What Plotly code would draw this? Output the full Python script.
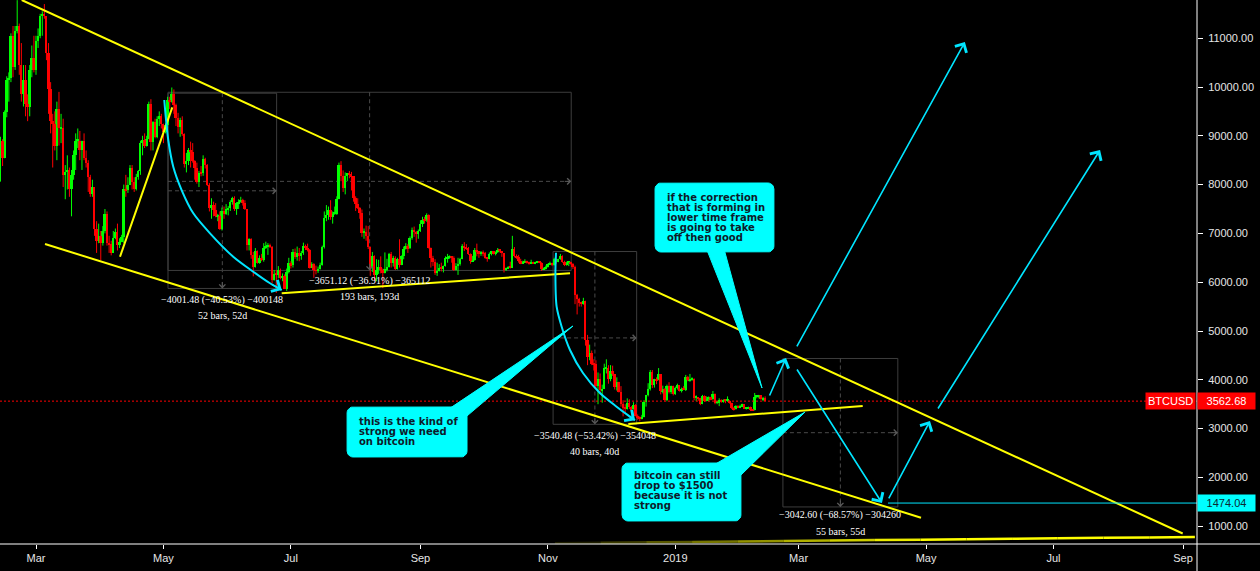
import numpy as np
import pandas as pd
import plotly.graph_objects as go

# ---------------- BTCUSD daily candles ----------------
START_DATE = "2018-02-12"

opens = [
    8080, 8900, 8550, 9480, 10150, 10180, 11050, 10400, 11150, 11250, 10450, 9850, 10150, 9650, 9600, 10350, 10600,
    10350, 10950, 11050, 11450, 11500, 11450, 10700, 9950, 9300, 9250, 8800, 9550, 9150, 9150, 8200, 8250, 8300, 7900, 8200, 8600, 8900, 8900, 8700, 8900, 8550, 8450, 8150, 7800, 7950, 7100, 6850,
    6950, 6800, 7050, 7400, 6800, 6780, 6600, 6900, 7020, 6770, 6830, 6930, 7900, 7880, 8000, 8350, 8050, 7900, 8150, 8280, 8850, 8920, 8800, 8940, 9650, 8870, 9280, 8980, 9350, 9400,
    9240, 9070, 9220, 9740, 9700, 9850, 9640, 9370, 9190, 9320, 9030, 8420, 8480, 8700, 8670, 8480, 8340, 8060, 8240, 8230, 8530, 8400, 8000, 7530, 7580, 7470, 7350, 7350, 7100, 7460, 7390,
    7490, 7530, 7640, 7720, 7500, 7620, 7650, 7680, 7620, 7500, 6770, 6880, 6550, 6310, 6640, 6400, 6500, 6450, 6710, 6740, 6770, 6720, 6050, 6170, 6150, 6250, 6080, 6130, 5860, 6200,
    6390, 6350, 6620, 6510, 6600, 6530, 6600, 6750, 6700, 6660, 6300, 6380, 6240, 6230, 6270, 6350, 6730, 7310, 7380, 7470, 7330, 7400, 7400, 7710, 8400, 8170, 7930, 8180, 8230, 8210, 8170,
    7730, 7600, 7530, 7420, 7010, 7030, 6940, 6720, 6290, 6540, 6150, 6240, 6310, 6260, 6190, 6270, 6310, 6580, 6390, 6490, 6270, 6480, 6360, 6530, 6690, 6740, 6700, 6910, 7070, 7030, 6980,
    7040, 7190, 7280, 7270, 7370, 6700, 6500, 6410, 6180, 6230, 6300, 6280, 6330, 6490, 6500, 6520, 6500, 6250, 6340, 6370, 6480, 6740, 6710, 6700, 6580, 6430, 6460, 6670, 6630, 6590,
    6620, 6590, 6500, 6480, 6570, 6630, 6590, 6610, 6670, 6640, 6590, 6240, 6290, 6310, 6300, 6690, 6530, 6510, 6430, 6390, 6410, 6420, 6400, 6390, 6410, 6390, 6400, 6410, 6400, 6270, 6280,
    6320, 6370, 6390, 6360, 6480, 6420, 6470, 6540, 6420, 6350, 6400, 6400, 6380, 6310, 5740, 5650, 5580, 5560, 5620, 4820, 4470, 4550, 4330, 4320, 3880, 4020, 3790, 3820, 4240, 4240,
    4010, 4180, 4110, 3850, 3950, 3760, 3500, 3420, 3410, 3520, 3440, 3400, 3490, 3260, 3220, 3200, 3230, 3540, 3680, 3810, 4150, 3890, 4020, 3990, 4110, 3770, 3810, 3590, 3870, 3740, 3870,
    3710, 3830, 3890, 3780, 3810, 3800, 4050, 3990, 4000, 4010, 3630, 3630, 3620, 3500, 3660, 3570, 3610, 3640, 3600, 3700, 3530, 3540, 3580, 3550, 3580, 3570, 3570, 3530, 3430, 3400, 3460,
    3430, 3460, 3500, 3410, 3410, 3440, 3390, 3380, 3650, 3650, 3680, 3600, 3620,
]
highs = [
    8980, 8930, 9520, 10220, 10300, 11100, 11250, 11250, 11780, 11300, 10900, 10450, 10450, 9850, 10450, 10850, 11050,
    11050, 11200, 11500, 11550, 11700, 11450, 10900, 10100, 9450, 9500, 9700, 9900, 9450, 9350, 8400, 8600, 8350, 8300, 8700, 9050, 9150, 9100, 8900, 9050, 8700, 8500, 8200, 8100, 7950, 7250, 7200,
    7050, 7150, 7500, 7450, 6950, 6850, 7050, 7100, 7200, 6900, 6970, 8000, 8200, 8150, 8400, 8400, 8150, 8220, 8300, 8900, 9000, 9050, 9000, 9700, 9750, 9300, 9350, 9400, 9500, 9450,
    9250, 9250, 9800, 9800, 9990, 9950, 9660, 9470, 9370, 9400, 9050, 8650, 8750, 8880, 8850, 8500, 8450, 8280, 8380, 8600, 8550, 8420, 8030, 7720, 7650, 7620, 7400, 7450, 7530, 7550, 7600,
    7560, 7680, 7750, 7760, 7640, 7700, 7750, 7710, 7680, 7500, 6900, 6900, 6620, 6700, 6650, 6550, 6580, 6800, 6830, 6800, 6790, 6740, 6250, 6250, 6330, 6280, 6180, 6160, 6280, 6500,
    6430, 6680, 6690, 6730, 6700, 6640, 6810, 6770, 6790, 6680, 6410, 6390, 6340, 6320, 6400, 6750, 7450, 7580, 7550, 7680, 7450, 7550, 7760, 8450, 8480, 8290, 8250, 8230, 8280, 8260, 8170,
    7760, 7720, 7540, 7490, 7100, 7160, 7150, 6730, 6620, 6550, 6470, 6460, 6530, 6280, 6610, 6480, 6600, 6620, 6540, 6530, 6500, 6880, 6550, 6730, 6800, 6780, 6940, 7120, 7140, 7050, 7080,
    7270, 7340, 7340, 7410, 7390, 6710, 6540, 6470, 6400, 6370, 6400, 6340, 6530, 6580, 6550, 6530, 6530, 6390, 6500, 6500, 6780, 6820, 6780, 6720, 6590, 6540, 6700, 6790, 6640, 6640,
    6650, 6620, 6510, 6610, 6640, 6640, 6630, 6700, 6680, 6640, 6590, 6300, 6330, 6420, 6950, 6720, 6570, 6560, 6480, 6440, 6470, 6440, 6420, 6460, 6420, 6420, 6430, 6420, 6410, 6300, 6340,
    6380, 6420, 6400, 6500, 6490, 6480, 6580, 6550, 6440, 6420, 6410, 6420, 6390, 6340, 5760, 5680, 5600, 5680, 5620, 4920, 4720, 4600, 4420, 4400, 4150, 4130, 3900, 4330, 4420, 4300,
    4300, 4290, 4120, 4050, 3960, 3870, 3580, 3500, 3620, 3600, 3460, 3540, 3500, 3290, 3250, 3280, 3580, 3690, 3930, 4200, 4200, 4020, 4050, 4240, 4110, 3880, 3830, 3900, 3950, 3880, 3880,
    3860, 3920, 3890, 3840, 3870, 4100, 4080, 4120, 4050, 4030, 3680, 3640, 3630, 3690, 3680, 3660, 3660, 3650, 3770, 3720, 3570, 3620, 3600, 3600, 3590, 3660, 3580, 3530, 3440, 3480, 3480,
    3490, 3510, 3500, 3430, 3450, 3450, 3400, 3730, 3680, 3690, 3680, 3650, 3660,
]
lows = [
    8060, 8380, 8540, 9380, 9700, 10100, 10200, 10350, 11100, 10250, 9700, 9600, 9400, 9300, 9400, 10200, 10300,
    10250, 10800, 11000, 11050, 11400, 10550, 9450, 9050, 8350, 8700, 8500, 8800, 8850, 7950, 7700, 7900, 7750, 7350, 8100, 8300, 8750, 8500, 8300, 8500, 8350, 7850, 7750, 7750, 6950, 6600, 6800,
    6450, 6750, 7000, 6750, 6600, 6550, 6600, 6880, 6650, 6700, 6820, 6800, 7750, 7830, 7990, 7900, 7850, 7880, 8100, 8200, 8600, 8750, 8780, 8930, 8700, 8700, 8950, 8950, 9200, 9150,
    8850, 9050, 9150, 9550, 9680, 9450, 9200, 9050, 8980, 9000, 8350, 8250, 8400, 8350, 8450, 8100, 8020, 7950, 8170, 8180, 8330, 7970, 7450, 7300, 7350, 7330, 7250, 7070, 7060, 7300, 7380,
    7370, 7460, 7590, 7460, 7380, 7500, 7630, 7570, 7480, 6650, 6650, 6480, 6120, 6300, 6380, 6380, 6430, 6420, 6680, 6560, 6700, 5980, 6030, 5780, 6080, 6060, 6020, 5860, 5820, 6180,
    6280, 6300, 6480, 6440, 6430, 6460, 6560, 6660, 6630, 6280, 6290, 6090, 6160, 6190, 6260, 6340, 6690, 7250, 7280, 7280, 7200, 7380, 7380, 7700, 8070, 7850, 7800, 8070, 8130, 7880, 7650,
    7460, 7500, 7300, 6930, 6890, 6850, 6680, 6130, 6210, 6030, 6020, 6170, 6180, 5880, 6180, 6220, 6300, 6300, 6320, 6250, 6260, 6300, 6350, 6470, 6670, 6600, 6680, 6870, 6930, 6810, 6890,
    7030, 7130, 7200, 7240, 6690, 6300, 6330, 6150, 6130, 6220, 6220, 6200, 6320, 6400, 6480, 6400, 6230, 6240, 6150, 6340, 6470, 6640, 6660, 6560, 6380, 6420, 6440, 6530, 6500, 6540,
    6530, 6480, 6420, 6470, 6550, 6570, 6550, 6600, 6610, 6520, 6200, 6230, 6270, 6280, 6290, 6510, 6480, 6400, 6370, 6380, 6400, 6380, 6360, 6380, 6380, 6370, 6390, 6390, 6230, 6250, 6260,
    6300, 6360, 6330, 6340, 6380, 6410, 6460, 6400, 6330, 6340, 6330, 6360, 6270, 5550, 5340, 5500, 5500, 5540, 4700, 4300, 4400, 4300, 4190, 3830, 3500, 3700, 3530, 3810, 4130, 3920,
    3970, 4080, 3800, 3780, 3740, 3450, 3250, 3300, 3390, 3400, 3360, 3390, 3250, 3180, 3150, 3190, 3230, 3450, 3660, 3780, 3830, 3840, 3910, 3990, 3700, 3720, 3560, 3560, 3720, 3710, 3680,
    3690, 3800, 3760, 3740, 3790, 3770, 3970, 3960, 3980, 3580, 3560, 3570, 3480, 3500, 3550, 3560, 3560, 3580, 3590, 3500, 3500, 3460, 3530, 3530, 3520, 3550, 3510, 3400, 3370, 3390, 3420,
    3420, 3440, 3400, 3390, 3400, 3360, 3360, 3370, 3620, 3620, 3590, 3560, 3560,
]
closes = [
    8900, 8550, 9480, 10150, 10180, 11050, 10400, 11150, 11250, 10450, 9850, 10150, 9650, 9600, 10350, 10600, 10350,
    10950, 11050, 11450, 11500, 11450, 10700, 9950, 9300, 9250, 8800, 9550, 9150, 9150, 8200, 8250, 8300, 7900, 8200, 8600, 8900, 8900, 8700, 8900, 8550, 8450, 8150, 7800, 7950, 7100, 6850, 6950,
    6800, 7050, 7400, 6800, 6780, 6600, 6900, 7020, 6770, 6830, 6930, 7900, 7880, 8000, 8350, 8050, 7900, 8150, 8280, 8850, 8920, 8800, 8940, 9650, 8870, 9280, 8980, 9350, 9400, 9240,
    9070, 9220, 9740, 9700, 9850, 9640, 9370, 9190, 9320, 9030, 8420, 8480, 8700, 8670, 8480, 8340, 8060, 8240, 8230, 8530, 8400, 8000, 7530, 7580, 7470, 7350, 7350, 7100, 7460, 7390, 7490,
    7530, 7640, 7720, 7500, 7620, 7650, 7680, 7620, 7500, 6770, 6880, 6550, 6310, 6640, 6400, 6500, 6450, 6710, 6740, 6770, 6720, 6050, 6170, 6150, 6250, 6080, 6130, 5860, 6200, 6390,
    6350, 6620, 6510, 6600, 6530, 6600, 6750, 6700, 6660, 6300, 6380, 6240, 6230, 6270, 6350, 6730, 7310, 7380, 7470, 7330, 7400, 7400, 7710, 8400, 8170, 7930, 8180, 8230, 8210, 8170, 7730,
    7600, 7530, 7420, 7010, 7030, 6940, 6720, 6290, 6540, 6150, 6240, 6310, 6260, 6190, 6270, 6310, 6580, 6390, 6490, 6270, 6480, 6360, 6530, 6690, 6740, 6700, 6910, 7070, 7030, 6980, 7040,
    7190, 7280, 7270, 7370, 6700, 6500, 6410, 6180, 6230, 6300, 6280, 6330, 6490, 6500, 6520, 6500, 6250, 6340, 6370, 6480, 6740, 6710, 6700, 6580, 6430, 6460, 6670, 6630, 6590, 6620,
    6590, 6500, 6480, 6570, 6630, 6590, 6610, 6670, 6640, 6590, 6240, 6290, 6310, 6300, 6690, 6530, 6510, 6430, 6390, 6410, 6420, 6400, 6390, 6410, 6390, 6400, 6410, 6400, 6270, 6280, 6320,
    6370, 6390, 6360, 6480, 6420, 6470, 6540, 6420, 6350, 6400, 6400, 6380, 6310, 5740, 5650, 5580, 5560, 5620, 4820, 4470, 4550, 4330, 4320, 3880, 4020, 3790, 3820, 4240, 4240, 4010,
    4180, 4110, 3850, 3950, 3760, 3500, 3420, 3410, 3520, 3440, 3400, 3490, 3260, 3220, 3200, 3230, 3540, 3680, 3810, 4150, 3890, 4020, 3990, 4110, 3770, 3810, 3590, 3870, 3740, 3870, 3710,
    3830, 3890, 3780, 3810, 3800, 4050, 3990, 4000, 4010, 3630, 3630, 3620, 3500, 3660, 3570, 3610, 3640, 3600, 3700, 3530, 3540, 3580, 3550, 3580, 3570, 3570, 3530, 3430, 3400, 3460, 3430,
    3460, 3500, 3410, 3410, 3440, 3390, 3380, 3650, 3650, 3680, 3600, 3620, 3562.68,
]
n = len(closes)
if not (len(opens) == len(highs) == len(lows) == n):
    raise ValueError(f"lengths {len(opens)} {len(highs)} {len(lows)} {n}")
dates = pd.date_range(START_DATE, periods=n, freq="D")

last_price = 3562.68
target_price = 1474.04

# axis ticks
tick_dates = ["2018-03-01", "2018-05-01", "2018-07-01", "2018-09-01", "2018-11-01",
              "2019-01-01", "2019-03-01", "2019-05-01", "2019-07-01", "2019-09-01"]
tick_labels = ["Mar", "May", "Jul", "Sep", "Nov", "2019", "Mar", "May", "Jul", "Sep"]

# ---------------- drawings (anchors: days after 2018-03-01, price) ----------------
upper_days, upper_prices = [-6.84, 548.85], [11783, 850]
lower_days, lower_prices = [4.31, 423.6], [6783, 1174]
rise_days, rise_prices = [40.2, 65.24], [6522, 9584]
support1_days, support1_prices = [117.6, 255.6], [5773, 6182]
support2_days, support2_prices = [283.5, 395.7], [3094, 3463]
base_days, base_prices = [248.4, 554.7], [650, 779]

curve1_days = [61.4, 62.1, 63.3, 65.7, 69.7, 75.3, 83.3, 94.4, 104.0, 112.0, 117.6]
curve1_prices = [9734, 9392, 8914, 8367, 7889, 7412, 7002, 6523, 6215, 5978, 5840]
curve2_days = [248.9, 248.6, 249.2, 251.6, 255.6, 261.8, 269.9, 277.9, 283.3, 286.7]
curve2_prices = [6605, 6189, 5498, 5088, 4611, 4139, 3730, 3449, 3275, 3172]

arrow_tail_days = [350.8, 363.8, 363.8, 407.8, 431.3]
arrow_tail_prices = [3648, 4652, 4242, 1537, 3381]
arrow_head_days = [359.0, 444.6, 404.9, 427.9, 509.3]
arrow_head_prices = [4447, 10922, 1475, 3156, 8709]
target_line_start_day = 407.8

measure_start_days = [63.18, 63.18, 247.5, 357.5]
measure_bars = [52, 193, 40, 55]
measure_tops = [9873.5, 9892.1, 6628.5, 4437.1]
measure_bottoms = [5872.0, 6241.0, 3088.0, 1394.5]
measure_text1 = ["\u22124001.48 (\u221240.53%) \u2212400148", "\u22123651.12 (\u221236.91%) \u2212365112",
                 "\u22123540.48 (\u221253.42%) \u2212354048", "\u22123042.60 (\u221268.57%) \u2212304260"]
measure_text2 = ["52 bars, 52d", "193 bars, 193d", "40 bars, 40d", "55 bars, 55d"]
measure_off1 = [12, 11, 11.5, 8]
measure_off2 = [27, 26, 27, 25]

callout1_box = [296.3, 353.2, 8033, 6619]
callout1_ptr_days, callout1_ptr_prices = [320.2, 328.8, 347.5], [6762, 6762, 3832]
callout1_text_at = [301.1, 7746]
callout1_lines = ["if the correction", "that is forming in", "lower time frame", "is going to take", "off then good"]

callout2_box = [148.9, 206.3, 3443, 2418]
callout2_ptr_days, callout2_ptr_prices = [197.5, 205.5, 257.0], [3400, 3230, 5102]
callout2_text_at = [153.6, 3141]
callout2_lines = ["this is the kind of", "strong we need", "on bitcoin"]

callout3_box = [280.5, 337.4, 2295, 1107]
callout3_ptr_days, callout3_ptr_prices = [323.6, 336.0, 368.1], [2234, 1988, 3340]
callout3_text_at = [285.3, 2049]
callout3_lines = ["bitcoin can still", "drop to $1500", "because it is not", "strong"]

# ---------------- layout constants ----------------
W, H = 1260, 571
ML, MR, MT, MB = 0, 63, 0, 27
PLOT_W, PLOT_H = W - ML - MR, H - MT - MB
X_MIN_D, X_MAX_D = -17.23, 555.7
Y_MIN, Y_MAX = 635, 11783
PX_DAY = PLOT_W / (X_MAX_D - X_MIN_D)
PX_PRICE = PLOT_H / (Y_MAX - Y_MIN)
DAY_MS = 86400000

BASE = pd.Timestamp("2018-03-01")


def T(d):
    return (BASE + pd.Timedelta(days=float(d))).strftime("%Y-%m-%d %H:%M:%S")


YELLOW = "#ffff00"
CYAN = "#00e5ff"
CALLOUT = "#00ffff"
TEXT_DARK = "#0d1b2a"
BOXLINE = "#3d3d3d"
AXIS_TXT = "#e6e6e6"
UP, DOWN = "#00ff00", "#ff0000"

fig = go.Figure()

# ---- candles: wicks + bodies ----
for up in (True, False):
    idx = [i for i in range(n) if (closes[i] >= opens[i]) == up]
    col = UP if up else DOWN
    wx, wy = [], []
    for i in idx:
        wx += [dates[i], dates[i], None]
        wy += [lows[i], highs[i], None]
    fig.add_trace(go.Scatter(x=wx, y=wy, mode="lines", line=dict(color=col, width=1),
                             showlegend=False, hoverinfo="skip"))
    fig.add_trace(go.Bar(x=[dates[i] for i in idx],
                         y=[max(abs(closes[i] - opens[i]), 20) for i in idx],
                         base=[min(opens[i], closes[i]) for i in idx],
                         width=0.95 * DAY_MS, marker=dict(color=col, line=dict(width=0)),
                         showlegend=False, hoverinfo="skip"))

# price line
fig.add_trace(go.Scatter(x=[T(X_MIN_D), T(X_MAX_D)], y=[last_price, last_price], mode="lines",
                         line=dict(color="#ff0000", width=1, dash="2px,2px"),
                         showlegend=False, hoverinfo="skip"))


def line_trace(days, prices, color, width=2, opacity=1.0, shape="linear"):
    fig.add_trace(go.Scatter(x=[T(d) for d in days], y=prices, mode="lines",
                             line=dict(color=color, width=width, shape=shape, smoothing=0.8),
                             opacity=opacity, showlegend=False, hoverinfo="skip"))


for dd, pp in [(upper_days, upper_prices), (lower_days, lower_prices), (rise_days, rise_prices),
               (support1_days, support1_prices), (support2_days, support2_prices)]:
    line_trace(dd, pp, YELLOW, 2)

# fading base line
segs = 14
for i in range(segs):
    f0, f1 = i / segs, (i + 1) / segs
    d0 = base_days[0] + (base_days[1] - base_days[0]) * f0
    d1 = base_days[0] + (base_days[1] - base_days[0]) * f1
    p0 = base_prices[0] + (base_prices[1] - base_prices[0]) * f0
    p1 = base_prices[0] + (base_prices[1] - base_prices[0]) * f1
    line_trace([d0, d1], [p0, p1], YELLOW, 2.5, opacity=min(1.0, 0.12 + 1.6 * f0))

# cyan curves
line_trace(curve1_days, curve1_prices, CYAN, 2, shape="spline")
line_trace(curve2_days, curve2_prices, CYAN, 2, shape="spline")

# target horizontal line
line_trace([target_line_start_day, X_MAX_D + 5], [target_price, target_price], CYAN, 1)


# callouts
def rounded_rect(d0, d1, ptop, pbot, r=6):
    rx, ry = r / PX_DAY, r / PX_PRICE
    xs, ys = [], []
    corners = [(d1 - rx, ptop - ry, 0, 90), (d0 + rx, ptop - ry, 90, 180),
               (d0 + rx, pbot + ry, 180, 270), (d1 - rx, pbot + ry, 270, 360)]
    for cx, cy, a0, a1 in corners:
        for a in np.linspace(np.radians(a0), np.radians(a1), 7):
            xs.append(T(cx + rx * np.cos(a)))
            ys.append(cy + ry * np.sin(a))
    xs.append(xs[0])
    ys.append(ys[0])
    return xs, ys


def fill_poly(xs, ys, color):
    fig.add_trace(go.Scatter(x=xs, y=ys, mode="lines", fill="toself", fillcolor=color,
                             line=dict(color=color, width=1), showlegend=False, hoverinfo="skip"))


for box, pdays, pprices in [(callout1_box, callout1_ptr_days, callout1_ptr_prices),
                            (callout2_box, callout2_ptr_days, callout2_ptr_prices),
                            (callout3_box, callout3_ptr_days, callout3_ptr_prices)]:
    fill_poly([T(d) for d in pdays + pdays[:1]], pprices + pprices[:1], CALLOUT)
    bx, by = rounded_rect(*box)
    fill_poly(bx, by, CALLOUT)

annotations = []
for at, lines in [(callout1_text_at, callout1_lines), (callout2_text_at, callout2_lines),
                  (callout3_text_at, callout3_lines)]:
    for i, ln in enumerate(lines):
        annotations.append(dict(x=T(at[0]), y=at[1], xref="x", yref="y", text="<b>" + ln + "</b>",
                                showarrow=False, xanchor="left", yanchor="middle", yshift=-10 * i,
                                font=dict(family="DejaVu Sans", size=10, color=TEXT_DARK)))

# arrows
for td, tp, hd, hp in zip(arrow_tail_days, arrow_tail_prices, arrow_head_days, arrow_head_prices):
    annotations.append(dict(x=T(hd), y=hp, ax=T(td), ay=tp, xref="x", yref="y", axref="x", ayref="y",
                            text="", showarrow=True, arrowhead=4, arrowsize=1.6, arrowwidth=1.6,
                            arrowcolor=CYAN))
for cd, cp in [(curve1_days, curve1_prices), (curve2_days, curve2_prices)]:
    annotations.append(dict(x=T(cd[-1]), y=cp[-1], ax=T(cd[-2]), ay=cp[-2], xref="x", yref="y",
                            axref="x", ayref="y", text="", showarrow=True, arrowhead=4, arrowsize=1.6,
                            arrowwidth=1.6, arrowcolor=CYAN))

# measurement boxes
shapes = []
for d0, nb, top, bot, t1, t2, o1, o2 in zip(measure_start_days, measure_bars, measure_tops,
                                            measure_bottoms, measure_text1, measure_text2,
                                            measure_off1, measure_off2):
    d1 = d0 + nb
    dm = (d0 + d1) / 2
    pm = (top + bot) / 2
    shapes.append(dict(type="rect", xref="x", yref="y", x0=T(d0), x1=T(d1), y0=bot, y1=top,
                       line=dict(color=BOXLINE, width=1), layer="below"))
    shapes.append(dict(type="line", xref="x", yref="y", x0=T(dm), x1=T(dm), y0=top, y1=bot,
                       line=dict(color="#4a4a4a", width=1, dash="4px,3px"), layer="below"))
    shapes.append(dict(type="line", xref="x", yref="y", x0=T(d0), x1=T(d1), y0=pm, y1=pm,
                       line=dict(color="#4a4a4a", width=1, dash="4px,3px"), layer="below"))
    annotations.append(dict(x=T(dm), y=bot, xref="x", yref="y", text="", showarrow=True, ax=0, ay=-8,
                            arrowhead=4, arrowsize=1.2, arrowwidth=1, arrowcolor="#5a5a5a"))
    annotations.append(dict(x=T(d1), y=pm, xref="x", yref="y", text="", showarrow=True, ax=-8, ay=0,
                            arrowhead=4, arrowsize=1.2, arrowwidth=1, arrowcolor="#5a5a5a"))
    for txt, off in [(t1, o1), (t2, o2)]:
        annotations.append(dict(x=T(dm), y=bot, xref="x", yref="y", text=txt, showarrow=False,
                                xanchor="center", yanchor="middle", yshift=-off,
                                font=dict(family="Liberation Serif", size=10, color="#ffffff")))

# axis lines spanning into the margins
shapes.append(dict(type="line", xref="paper", yref="paper", x0=0, x1=W / PLOT_W, y0=0, y1=0,
                   line=dict(color="#ffffff", width=1)))
shapes.append(dict(type="line", xref="paper", yref="paper", x0=1, x1=1, y0=-MB / PLOT_H, y1=1,
                   line=dict(color="#ffffff", width=1)))

# price labels on the right
annotations.append(dict(x=1, y=last_price, xref="paper", yref="y", text="BTCUSD", showarrow=False,
                        xanchor="right", yanchor="middle", xshift=-1, bgcolor="#ff0000", borderpad=2,
                        font=dict(family="Liberation Sans", size=11, color="#ffffff")))
annotations.append(dict(x=1, y=last_price, xref="paper", yref="y", text=f"{last_price:.2f}",
                        showarrow=False, xanchor="left", yanchor="middle", bgcolor="#ff0000",
                        borderpad=2, width=53, align="center",
                        font=dict(family="Liberation Sans", size=11, color="#ffffff")))
annotations.append(dict(x=1, y=target_price, xref="paper", yref="y", text=f"{target_price:.2f}",
                        showarrow=False, xanchor="left", yanchor="middle", bgcolor=CALLOUT,
                        borderpad=2, width=53, align="center",
                        font=dict(family="Liberation Sans", size=11, color="#0a2a33")))

fig.update_layout(
    width=W, height=H, margin=dict(l=ML, r=MR, t=MT, b=MB),
    paper_bgcolor="#000000", plot_bgcolor="#000000",
    showlegend=False, shapes=shapes, annotations=annotations,
    barmode="overlay", bargap=0,
    xaxis=dict(type="date", range=[T(X_MIN_D), T(X_MAX_D)], showgrid=False, zeroline=False,
               showline=False, rangeslider=dict(visible=False), tickvals=tick_dates,
               ticktext=tick_labels, ticks="outside", ticklen=4, tickcolor="#ffffff",
               tickfont=dict(family="Liberation Sans", size=11, color=AXIS_TXT)),
    yaxis=dict(range=[Y_MIN, Y_MAX], side="right", showgrid=False, zeroline=False, showline=False,
               dtick=1000, tick0=0, tickformat=".2f", ticks="outside", ticklen=5,
               tickcolor="#ffffff", ticklabelstandoff=3,
               tickfont=dict(family="Liberation Sans", size=11, color=AXIS_TXT)),
)

fig.write_html("out.html", config={"displayModeBar": False},
               post_script="document.body.style.margin='0';document.body.style.background='#000';")
